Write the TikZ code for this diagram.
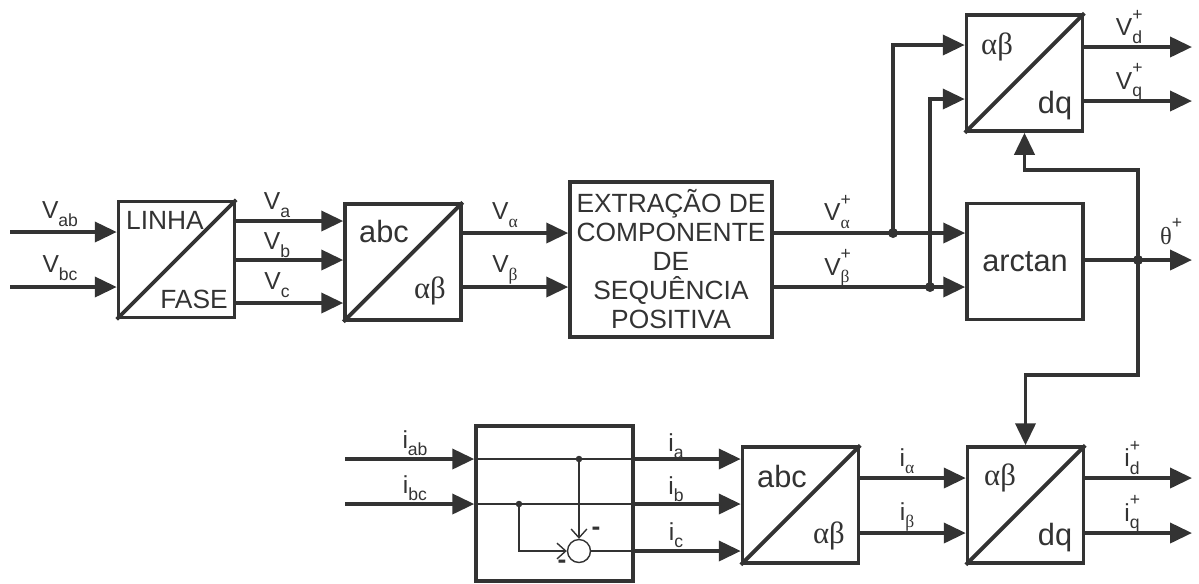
\documentclass[tikz,border=0pt]{standalone}
\usepackage{fontspec}
\setmainfont{Liberation Sans}
\newfontfamily\grk{Liberation Serif}
\usetikzlibrary{arrows.meta,positioning,calc}
\definecolor{linegray}{gray}{0.2}

\newcommand{\lsub}[1]{\raisebox{-0.3em}{\fontsize{10}{10}\selectfont #1}}
\newcommand{\lsupsub}[2]{\rlap{\raisebox{0.62em}{\fontsize{10}{10}\selectfont #1}}\raisebox{-0.3em}{\fontsize{10}{10}\selectfont #2}}

\tikzset{
  blk/.style={draw=linegray, line width=2pt, minimum width=2.32cm, minimum height=2.32cm, inner sep=0pt},
  sig/.style={draw=linegray, line width=2.2pt, -{Triangle[length=0.44cm,width=0.4cm]}},
  wire/.style={draw=linegray, line width=2.2pt},
  fine/.style={draw=linegray, line width=0.8pt},
  finesig/.style={fine, -{Straight Barb[length=5pt,width=9pt,line width=0.8pt]}},
  jdot/.style={circle, fill=linegray, inner sep=0pt, minimum size=0.2cm},
  sdot/.style={circle, fill=linegray, inner sep=0pt, minimum size=0.13cm},
  lbl/.style={font=\fontsize{14}{16}\selectfont, text=linegray, inner sep=0pt},
  caps/.style={font=\fontsize{15}{16.5}\selectfont, text=linegray, inner sep=0pt},
  lows/.style={font=\fontsize{17.5}{20}\selectfont, text=linegray, inner sep=0pt},
  minus/.style={font=\bfseries\fontsize{15}{16}\selectfont, text=linegray, inner sep=0pt}
}

\begin{document}
\begin{tikzpicture}[x=0.02cm, y=-0.02cm]
  \useasboundingbox (0,0) rectangle (1199,583);

  % blocks of the voltage path
  \node[blk] (lf) at (176.5,259.5) {};
  \draw[wire] (lf.south west) -- (lf.north east);
  \node[caps] at (165,220) {LINHA};
  \node[caps] at (194,299) {FASE};

  \node[blk] (abcV) at (403,262) {};
  \draw[wire] (abcV.south west) -- (abcV.north east);
  \node[lows] at (384,231) {abc};
  \node[lows] at (430,291) {\grk αβ};

  \node[blk, minimum width=4.04cm, minimum height=3.1cm, caps, align=center] (ext) at (671,259.5)
    {EXTRAÇÃO DE\\COMPONENTE\\DE\\SEQUÊNCIA\\POSITIVA};

  \node[blk] (dqV) at (1024.5,73) {};
  \draw[wire] (dqV.south west) -- (dqV.north east);
  \node[lows] at (997,47) {\grk αβ};
  \node[lows] at (1055,106) {dq};

  \node[blk, lows] (atan) at (1025,261.5) {arctan};

  % blocks of the current path
  \node[blk, minimum width=3.14cm, minimum height=3.1cm] (calc) at (554.5,503.5) {};

  \node[blk] (abcI) at (800.5,505) {};
  \draw[wire] (abcI.south west) -- (abcI.north east);
  \node[lows] at (782,476) {abc};
  \node[lows] at (829,536) {\grk αβ};

  \node[blk] (dqI) at (1025.5,505) {};
  \draw[wire] (dqI.south west) -- (dqI.north east);
  \node[lows] at (1000,478) {\grk αβ};
  \node[lows] at (1055,538) {dq};

  % free ends
  \coordinate (inAB) at (10,232);
  \coordinate (inBC) at (10,287);
  \coordinate (outVd) at (1192,47);
  \coordinate (outVq) at (1192,101);
  \coordinate (outTh) at (1192,260);
  \coordinate (outId) at (1192,478);
  \coordinate (outIq) at (1192,533);
  \coordinate (inIab) at (345,459);
  \coordinate (inIbc) at (345,504);

  % voltage signals
  \draw[sig] (inAB) -- (lf.west |- inAB);
  \draw[sig] (inBC) -- (lf.west |- inBC);
  \foreach \yy in {221,260,303}
    \draw[sig] (lf.east |- 0,\yy) -- (abcV.west |- 0,\yy);
  \foreach \yy in {233,287}
    \draw[sig] (abcV.east |- 0,\yy) -- (ext.west |- 0,\yy);
  \foreach \yy in {233,287}
    \draw[sig] (ext.east |- 0,\yy) -- (atan.west |- 0,\yy);

  \node[jdot] (jA) at (893,233) {};
  \node[jdot] (jB) at (930,287) {};
  \draw[sig] (jA.center) |- (dqV.west |- 0,45);
  \draw[sig] (jB.center) |- (dqV.west |- 0,99);

  \draw[sig] (dqV.east |- outVd) -- (outVd);
  \draw[sig] (dqV.east |- outVq) -- (outVq);

  \node[jdot] (jT) at (1138,260) {};
  \draw[sig] (atan.east |- outTh) -- (outTh);
  \coordinate (fbUp) at (1024.5,170);
  \coordinate (fbDn) at (1025.5,375);
  \draw[sig] (jT.center) |- (fbUp) -- (dqV.south);
  \draw[sig] (jT.center) |- (fbDn) -- (dqI.north);

  % current signals
  \draw[sig] (inIab) -- (calc.west |- inIab);
  \draw[sig] (inIbc) -- (calc.west |- inIbc);
  \node[circle, fine, minimum size=0.46cm, inner sep=0pt] (sum) at (579,551) {};
  \node[sdot] (dA) at (579,459) {};
  \node[sdot] (dB) at (519,504) {};
  \draw[fine] (calc.west |- inIab) -- (calc.east |- inIab);
  \draw[fine] (calc.west |- inIbc) -- (calc.east |- inIbc);
  \draw[finesig] (dA.center) -- (sum.north);
  \draw[finesig] (dB.center) |- (sum.west);
  \draw[fine] (sum.east) -- (calc.east |- sum);
  \node[minus] at (596,531) {-};
  \node[minus] at (562,564) {-};

  \foreach \yy in {459,504,551}
    \draw[sig] (calc.east |- 0,\yy) -- (abcI.west |- 0,\yy);
  \foreach \yy in {478,533}
    \draw[sig] (abcI.east |- 0,\yy) -- (dqI.west |- 0,\yy);
  \draw[sig] (dqI.east |- outId) -- (outId);
  \draw[sig] (dqI.east |- outIq) -- (outIq);

  % labels
  \node[lbl] at (60,214) {V\lsub{ab}};
  \node[lbl] at (60,268) {V\lsub{bc}};
  \node[lbl] at (277,205) {V\lsub{a}};
  \node[lbl] at (277,245) {V\lsub{b}};
  \node[lbl] at (277,285) {V\lsub{c}};
  \node[lbl] at (505,215) {V\lsub{\grk α}};
  \node[lbl] at (505,270) {V\lsub{\grk β}};
  \node[lbl] at (837,212) {V\lsupsub{+}{\grk α}};
  \node[lbl] at (837,268) {V\lsupsub{+}{\grk β}};
  \node[lbl] at (1129,27) {V\lsupsub{+}{d}};
  \node[lbl] at (1129,82) {V\lsupsub{+}{q}};
  \node[lbl] at (1166,235) {{\grk θ}\lsupsub{+}{}};
  \node[lbl] at (415,443) {i\lsub{ab}};
  \node[lbl] at (415,488) {i\lsub{bc}};
  \node[lbl] at (676,446) {i\lsub{a}};
  \node[lbl] at (676,489) {i\lsub{b}};
  \node[lbl] at (676,535) {i\lsub{c}};
  \node[lbl] at (907,461) {i\lsub{\grk α}};
  \node[lbl] at (907,517) {i\lsub{\grk β}};
  \node[lbl] at (1132,458) {i\lsupsub{+}{d}};
  \node[lbl] at (1132,514) {i\lsupsub{+}{q}};
\end{tikzpicture}
\end{document}
